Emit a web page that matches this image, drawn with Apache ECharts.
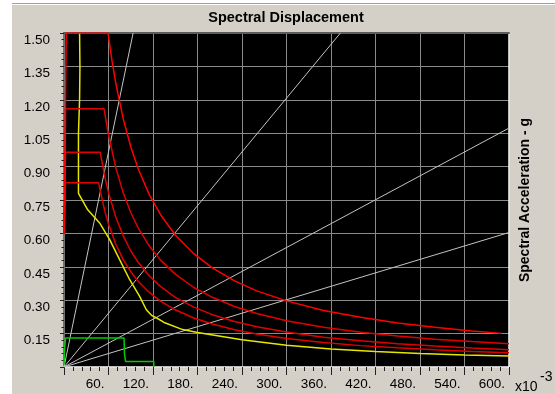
<!DOCTYPE html>
<html>
<head>
<meta charset="utf-8">
<title>Spectral Displacement</title>
<script src="https://cdn.jsdelivr.net/npm/echarts@6/dist/echarts.min.js"></script>
<style>
  html, body { margin: 0; padding: 0; background: #fff; }
  .panel {
    position: absolute; left: 12px; top: 3px; width: 543px; height: 390px;
    background: #d4d0c8; border-top: 1px solid #a0a0a0; box-shadow: inset 0 1px 0 #fff;
  }
  #main { position: absolute; left: 0; top: 0; width: 555px; height: 394px; }
</style>
</head>
<body>
<div class="panel"></div>
<div id="main"></div>
<script>
// Sd in x10^-3, Sa in g
var xMax = 600, xStep = 60;
var yMax = 1.5, yStep = 0.15;

// constant period lines (T = 0.5, 1.0, 1.5, 2.0 s)
var periodT05 = [[0, 0], [93.2, 1.5]];
var periodT10 = [[0, 0], [372.7, 1.5]];
var periodT15 = [[0, 0], [600, 1.073]];
var periodT20 = [[0, 0], [600, 0.604]];

// demand spectra
var demand1 = [[0, 0.6], [1, 0.75], [2, 1.2], [3, 1.5], [59.3, 1.5], [65, 1.369], [70, 1.271], [80, 1.113],
  [90, 0.989], [100, 0.89], [115, 0.774], [130, 0.685], [150, 0.593], [175, 0.509], [200, 0.445],
  [230, 0.387], [260, 0.342], [300, 0.297], [350, 0.254], [400, 0.223], [450, 0.198], [500, 0.178],
  [550, 0.162], [590, 0.151]];
var demand2 = [[0, 0.6], [1, 0.75], [2, 1.16], [53.9, 1.16], [60, 1.042], [70, 0.893], [80, 0.781],
  [90, 0.694], [100, 0.625], [115, 0.543], [130, 0.481], [150, 0.417], [175, 0.357], [200, 0.313],
  [230, 0.272], [260, 0.24], [300, 0.208], [350, 0.179], [400, 0.156], [450, 0.139], [500, 0.125],
  [550, 0.114], [600, 0.104]];
var demand3 = [[0, 0.6], [1, 0.75], [2, 0.964], [48.8, 0.964], [55, 0.855], [60, 0.783], [70, 0.671],
  [80, 0.588], [90, 0.522], [100, 0.47], [115, 0.409], [130, 0.362], [150, 0.313], [175, 0.269],
  [200, 0.235], [230, 0.204], [260, 0.181], [300, 0.157], [350, 0.134], [400, 0.118], [450, 0.104],
  [500, 0.094], [550, 0.085], [600, 0.078]];
var demand4 = [[0, 0.6], [1, 0.75], [2, 0.828], [46.5, 0.828], [55, 0.7], [60, 0.642], [70, 0.55],
  [80, 0.481], [90, 0.428], [100, 0.385], [115, 0.335], [130, 0.296], [150, 0.257], [175, 0.22],
  [200, 0.193], [230, 0.167], [260, 0.148], [300, 0.128], [350, 0.11], [400, 0.096], [450, 0.086],
  [500, 0.077], [550, 0.07], [600, 0.064]];

// yellow curve
var yellowCurve = [[21, 1.5], [21.5, 1.35], [21, 1.2], [19.5, 1.05], [19.5, 0.9], [19.5, 0.78],
  [32, 0.706], [48, 0.647], [61.6, 0.572], [75, 0.482], [88.6, 0.392], [102, 0.317], [111, 0.257],
  [118, 0.232], [125, 0.22], [135, 0.2], [160, 0.168], [180, 0.155], [240, 0.122], [300, 0.098],
  [360, 0.081], [420, 0.07], [480, 0.061], [540, 0.054], [600, 0.049]];

// green curve
var greenCurve = [[0, 0.01], [0.5, 0.07], [2, 0.13], [81, 0.13], [81.5, 0.06], [83, 0.025],
  [121, 0.025], [121, 0]];

var chartDom = document.getElementById('main');
var myChart = echarts.init(chartDom);
var font = '"Liberation Sans", Arial, sans-serif';
var option;

function curve(data, color, width) {
  return {
    type: 'line',
    data: data,
    symbol: 'none',
    showSymbol: false,
    silent: true,
    xAxisIndex: 0,
    yAxisIndex: 0,
    lineStyle: { color: color, width: width }
  };
}

option = {
  animation: false,
  title: {
    text: 'Spectral Displacement',
    left: 286,
    top: 10,
    padding: 0,
    textAlign: 'center',
    textStyle: { fontFamily: font, fontSize: 14.5, fontWeight: 'bold', color: '#000' }
  },
  grid: {
    left: 64, top: 33, right: 46, bottom: 27,
    show: true, backgroundColor: '#000', borderWidth: 0
  },
  xAxis: [
    {
      type: 'value', min: 0, max: xMax, interval: xStep, position: 'bottom',
      axisLine: { show: true, onZero: false, lineStyle: { color: '#fff', width: 1.5 } },
      axisTick: { show: true, length: 8, lineStyle: { color: '#222' } },
      minorTick: { show: true, splitNumber: 5, length: 4, lineStyle: { color: '#222' } },
      splitLine: { show: true, lineStyle: { color: '#8a8a8a', width: 1 } },
      axisLabel: {
        margin: 10, align: 'right', padding: [0, 4, 0, 0],
        color: '#000', fontSize: 13.5, fontFamily: font,
        formatter: function (v) { return v === 0 ? '' : v + '.'; }
      }
    },
    {
      type: 'value', min: 0, max: xMax, position: 'top',
      axisLine: { show: true, onZero: false, lineStyle: { color: '#5c5c5c', width: 2 } },
      axisTick: { show: false }, axisLabel: { show: false }, splitLine: { show: false }
    }
  ],
  yAxis: [
    {
      type: 'value', min: 0, max: yMax, interval: yStep, position: 'left',
      axisLine: { show: true, onZero: false, lineStyle: { color: '#707070', width: 2 } },
      axisTick: { show: true, length: 4, lineStyle: { color: '#222' } },
      minorTick: { show: true, splitNumber: 5, length: 2.5, lineStyle: { color: '#222' } },
      splitLine: { show: true, lineStyle: { color: '#8a8a8a', width: 1 } },
      axisLabel: {
        margin: 14, verticalAlign: 'top',
        color: '#000', fontSize: 13.5, fontFamily: font,
        formatter: function (v) { return v === 0 ? '' : v.toFixed(2); }
      }
    },
    {
      type: 'value', min: 0, max: yMax, position: 'right',
      name: 'Spectral Acceleration - g', nameLocation: 'middle', nameRotate: 90, nameGap: 9,
      nameTextStyle: { fontFamily: font, fontSize: 14, fontWeight: 'bold', color: '#000' },
      axisLine: { show: true, onZero: false, lineStyle: { color: '#fff', width: 1.5 } },
      axisTick: { show: false }, axisLabel: { show: false }, splitLine: { show: false }
    }
  ],
  graphic: [
    { type: 'text', left: 515, top: 380, style: { text: 'x10', fontSize: 14, fontFamily: font, fill: '#000' } },
    { type: 'text', left: 540, top: 370, style: { text: '-3', fontSize: 14, fontFamily: font, fill: '#000' } }
  ],
  series: [
    curve(periodT05, '#c4c4c4', 1),
    curve(periodT10, '#c4c4c4', 1),
    curve(periodT15, '#c4c4c4', 1),
    curve(periodT20, '#c4c4c4', 1),
    curve(greenCurve, '#00cc00', 1.5),
    curve(yellowCurve, '#e6e600', 1.5),
    curve(demand4, '#e00000', 1.5),
    curve(demand3, '#e00000', 1.5),
    curve(demand2, '#e00000', 1.5),
    curve(demand1, '#ff0000', 1.5)
  ]
};

option && myChart.setOption(option);
</script>
</body>
</html>
